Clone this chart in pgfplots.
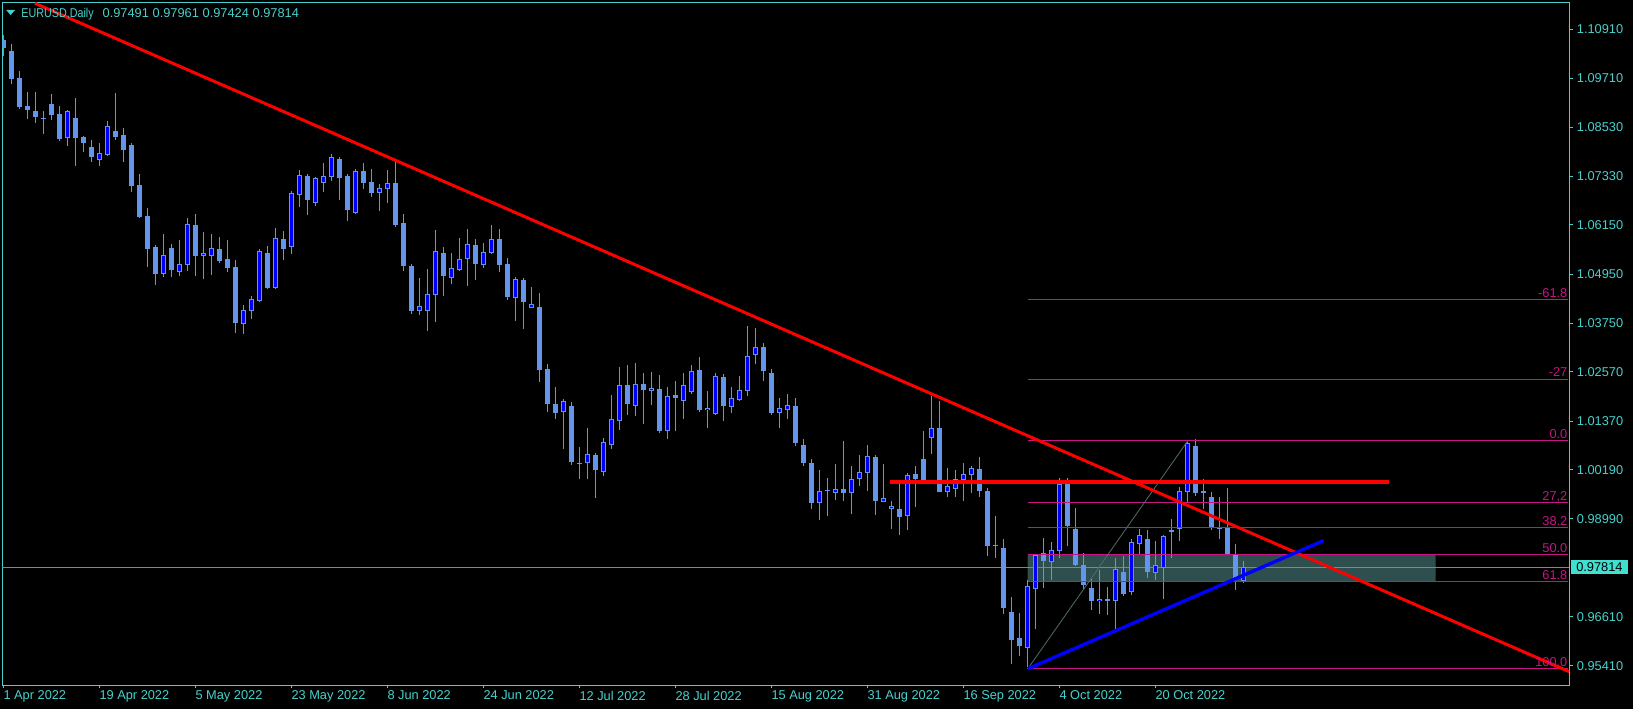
\documentclass[border=0pt]{standalone}
\usepackage{fontspec}
\setmainfont{Liberation Sans}
\usepackage{pgfplots}
\usepackage{pgfplotstable}
\pgfplotsset{compat=1.18}
\definecolor{cfb}{RGB}{100,149,237}
\definecolor{tc}{RGB}{72,209,204}
\definecolor{fib}{RGB}{199,21,133}
\definecolor{zone}{RGB}{47,79,79}
\definecolor{pline}{RGB}{119,136,153}
\definecolor{tag}{RGB}{64,224,208}
\definecolor{fibdiag}{RGB}{80,110,100}
\newcommand{\lf}{\fontsize{6.4pt}{7.2pt}\selectfont}
% bull candles: i open high low close
\pgfplotstableread{
i o h l c
8 1.0826 1.0895 1.0808 1.0891
12 1.0774 1.0814 1.0759 1.0790
13 1.0786 1.0867 1.0783 1.0856
20 1.0496 1.0593 1.0489 1.0542
22 1.0499 1.0578 1.0491 1.0520
23 1.0518 1.0632 1.0503 1.0617
25 1.0538 1.0598 1.0482 1.0546
26 1.0540 1.0593 1.0494 1.0559
30 1.0374 1.0420 1.0348 1.0408
31 1.0404 1.0442 1.0386 1.0434
32 1.0430 1.0556 1.0426 1.0551
34 1.0460 1.0607 1.0458 1.0582
36 1.0562 1.0697 1.0544 1.0692
37 1.0688 1.0749 1.0658 1.0736
39 1.0669 1.0731 1.0661 1.0728
40 1.0718 1.0766 1.0695 1.0733
41 1.0732 1.0787 1.0722 1.0779
44 1.0644 1.0751 1.0641 1.0745
47 1.0693 1.0714 1.0649 1.0704
48 1.0701 1.0749 1.0668 1.0716
52 1.0406 1.0486 1.0396 1.0417
53 1.0406 1.0508 1.0357 1.0446
54 1.0443 1.0602 1.0378 1.0551
56 1.0486 1.0546 1.0471 1.0509
57 1.0506 1.0583 1.0503 1.0533
58 1.0533 1.0605 1.0466 1.0568
60 1.0516 1.0571 1.0510 1.0548
61 1.0546 1.0615 1.0544 1.0580
64 1.0438 1.0488 1.0381 1.0483
66 1.0413 1.0464 1.0413 1.0422
70 1.0160 1.0191 1.0070 1.0186
73 1.0034 1.0120 0.9995 1.0057
75 1.0014 1.0096 1.0004 1.0086
76 1.0080 1.0201 1.0070 1.0142
77 1.0138 1.0269 1.0116 1.0225
79 1.0175 1.0279 1.0150 1.0228
81 1.0211 1.0257 1.0177 1.0218
83 1.0112 1.0219 1.0094 1.0198
85 1.0187 1.0254 1.0143 1.0225
86 1.0209 1.0274 1.0204 1.0259
88 1.0163 1.0211 1.0121 1.0169
89 1.0155 1.0254 1.0153 1.0247
91 1.0172 1.0219 1.0158 1.0193
92 1.0189 1.0247 1.0187 1.0213
93 1.0211 1.0369 1.0198 1.0296
94 1.0299 1.0364 1.0275 1.0318
97 1.0158 1.0193 1.0120 1.0168
98 1.0165 1.0203 1.0142 1.0176
102 0.9939 1.0018 0.9896 0.9967
104 0.9961 1.0033 0.9945 0.9972
106 0.9962 1.0028 0.9911 0.9996
107 0.9995 1.0055 0.9979 1.0013
108 1.0012 1.0079 0.9967 1.0052
110 0.9941 1.0033 0.9941 0.9950
111 0.9924 0.9943 0.9875 0.9931
113 0.9905 1.0011 0.9872 1.0006
116 1.0097 1.0198 1.0057 1.0120
118 0.9965 1.0023 0.9952 0.9979
119 0.9973 1.0018 0.9952 0.9996
120 0.9994 1.0035 0.9943 1.0008
121 1.0007 1.0028 0.9962 1.0023
128 0.9584 0.9750 0.9534 0.9736
129 0.9729 0.9814 0.9632 0.9811
131 0.9793 0.9843 0.9751 0.9823
132 0.9822 0.9999 0.9805 0.9984
137 0.9698 0.9775 0.9668 0.9703
139 0.9698 0.9804 0.9632 0.9777
141 0.9720 0.9850 0.9715 0.9842
142 0.9837 0.9875 0.9812 0.9860
144 0.9768 0.9845 0.9751 0.9787
145 0.9780 0.9860 0.9703 0.9858
147 0.9875 0.9977 0.9846 0.9967
148 0.9964 1.0086 0.9941 1.0084
155 0.97491 0.97961 0.97424 0.97814
}\bull
% bear candles: i open high low close
\pgfplotstableread{
i o h l c
0 1.1065 1.1077 1.1027 1.1046
1 1.1038 1.1055 1.0958 1.0971
2 1.0973 1.0990 1.0898 1.0903
3 1.0904 1.0938 1.0873 1.0895
4 1.0892 1.0938 1.0864 1.0878
5 1.0876 1.0892 1.0835 1.0873
6 1.0909 1.0934 1.0870 1.0883
7 1.0885 1.0904 1.0820 1.0825
9 1.0875 1.0924 1.0757 1.0827
10 1.0829 1.0831 1.0793 1.0813
11 1.0805 1.0821 1.0769 1.0779
14 1.0843 1.0936 1.0822 1.0830
15 1.0834 1.0851 1.0769 1.0796
16 1.0809 1.0814 1.0696 1.0710
17 1.0712 1.0739 1.0632 1.0635
18 1.0636 1.0656 1.0513 1.0557
19 1.0561 1.0566 1.0469 1.0496
21 1.0559 1.0568 1.0489 1.0506
24 1.0615 1.0641 1.0491 1.0538
27 1.0556 1.0585 1.0523 1.0528
28 1.0533 1.0578 1.0501 1.0511
29 1.0512 1.0529 1.0352 1.0377
33 1.0546 1.0563 1.0458 1.0460
35 1.0581 1.0600 1.0530 1.0557
38 1.0733 1.0739 1.0639 1.0675
42 1.0775 1.0780 1.0675 1.0730
43 1.0734 1.0739 1.0624 1.0651
45 1.0745 1.0766 1.0702 1.0718
46 1.0719 1.0751 1.0683 1.0693
49 1.0717 1.0768 1.0610 1.0615
50 1.0619 1.0641 1.0503 1.0515
51 1.0515 1.0520 1.0398 1.0405
55 1.0546 1.0561 1.0442 1.0490
59 1.0566 1.0581 1.0481 1.0520
62 1.0581 1.0605 1.0500 1.0517
63 1.0520 1.0534 1.0433 1.0440
65 1.0481 1.0486 1.0362 1.0426
67 1.0415 1.0449 1.0233 1.0262
68 1.0264 1.0276 1.0160 1.0180
69 1.0179 1.0219 1.0143 1.0158
71 1.0174 1.0184 1.0031 1.0038
72 1.0036 1.0074 0.9997 1.0033
74 1.0055 1.0060 0.9951 1.0019
78 1.0225 1.0274 1.0153 1.0180
80 1.0228 1.0254 1.0129 1.0214
82 1.0215 1.0249 1.0107 1.0114
84 1.0201 1.0235 1.0112 1.0194
87 1.0262 1.0293 1.0160 1.0163
90 1.0245 1.0252 1.0138 1.0175
95 1.0318 1.0327 1.0235 1.0258
96 1.0254 1.0264 1.0152 1.0158
99 1.0174 1.0193 1.0077 1.0084
100 1.0079 1.0094 1.0028 1.0035
101 1.0035 1.0045 0.9923 0.9938
103 0.9969 0.9999 0.9906 0.9966
105 0.9972 1.0089 0.9943 0.9962
109 1.0050 1.0055 0.9909 0.9943
112 0.9923 0.9991 0.9860 0.9904
114 1.0008 1.0028 0.9928 0.9996
115 1.0045 1.0113 0.9990 0.9990
117 1.0120 1.0186 0.9965 0.9965
122 1.0021 1.0050 0.9952 0.9967
123 0.9967 0.9974 0.9809 0.9833
124 0.9836 0.9906 0.9804 0.9832
125 0.9828 0.9850 0.9668 0.9683
126 0.9673 0.9709 0.9547 0.9605
127 0.9609 0.9670 0.9566 0.9590
130 0.9816 0.9853 0.9732 0.9797
133 0.9984 0.9999 0.9832 0.9882
134 0.9875 0.9926 0.9785 0.9788
135 0.9787 0.9816 0.9729 0.9737
136 0.9731 0.9753 0.9678 0.9700
138 0.9704 0.9733 0.9666 0.9700
140 0.9770 0.9809 0.9712 0.9717
143 0.9850 0.9872 0.9754 0.9771
146 0.9872 0.9899 0.9805 0.9868
149 1.0077 1.0094 0.9956 0.9963
150 0.9966 0.9996 0.9922 0.9962
151 0.9952 0.9965 0.9872 0.9880
152 0.9879 0.9952 0.9851 0.9874
153 0.9877 0.9974 0.9811 0.9811
154 0.9814 0.9838 0.9726 0.9750
}\bear
\begin{document}
\begin{tikzpicture}
\useasboundingbox (0,0) rectangle (816.5pt,354.5pt);
\fill[black] (0,0) rectangle (816.5pt,354.5pt);
\begin{axis}[
  at={(1.15pt,12pt)}, anchor=south west,
  width=783.5pt, height=341.35pt, scale only axis,
  xmin=-0.175, xmax=195.7, ymin=0.94947, ymax=1.11567,
  clip mode=individual,
  axis line style={tc, line width=0.5pt},
  xtick pos=bottom, ytick pos=right,
  yticklabel pos=right,
  tick align=outside, major tick length=1.6pt,
  tick style={tc, line width=0.5pt},
  xtick={0,12,24,36,48,60,72,84,96,108,120,132,144},
  xticklabels={1 Apr 2022,19 Apr 2022,5 May 2022,23 May 2022,8 Jun 2022,24 Jun 2022,12 Jul 2022,28 Jul 2022,15 Aug 2022,31 Aug 2022,16 Sep 2022,4 Oct 2022,20 Oct 2022},
  ytick={1.10910,1.09710,1.08530,1.07330,1.06150,1.04950,1.03750,1.02570,1.01370,1.00190,0.98990,0.96610,0.95410},
  yticklabels={1.10910,1.09710,1.08530,1.07330,1.06150,1.04950,1.03750,1.02570,1.01370,1.00190,0.98990,0.96610,0.95410},
  xticklabel style={anchor=north west, inner sep=0pt, font=\lf, text=tc, xshift=-0.3pt, yshift=-1.2pt},
  yticklabel style={anchor=west, inner sep=0pt, font=\lf, text=tc, xshift=2pt},
]
% fibo zone rectangle
\addplot[fill=zone, draw=none] coordinates {(128,0.97460) (179,0.97460) (179,0.98115) (128,0.98115) (128,0.97460)};
% current price line
\addplot[pline, line width=0.5pt] coordinates {(-0.175,0.97814) (195.7,0.97814)};
% wicks
\addplot[cfb, line width=0.5pt, quiver={u=0, v=\thisrow{h}-\thisrow{l}}] table[x=i, y=l] {\bear};
\addplot[cfb, line width=0.5pt, quiver={u=0, v=\thisrow{h}-\thisrow{l}}] table[x=i, y=l] {\bull};
% bear bodies
\addplot[cfb, line width=2.4pt, quiver={u=0, v=\thisrow{o}-\thisrow{c}}] table[x=i, y=c] {\bear};
% bull bodies (border + blue fill)
\addplot[cfb, line width=2.4pt, quiver={u=0, v=\thisrow{c}-\thisrow{o}}] table[x=i, y=o] {\bull};
\addplot[blue, line width=1.4pt, shorten <=0.5pt, shorten >=0.5pt, quiver={u=0, v=\thisrow{c}-\thisrow{o}}] table[x=i, y=o] {\bull};
% fibonacci levels
\addplot[fib, line width=0.5pt] coordinates {(128,1.0432) (195.5,1.0432)};
\addplot[fib, line width=0.5pt] coordinates {(128,1.02389) (195.5,1.02389)};
\addplot[fib, line width=0.5pt] coordinates {(128,1.0089) (195.5,1.0089)};
\addplot[fib, line width=0.5pt] coordinates {(128,0.99380) (195.5,0.99380)};
\addplot[fib, line width=0.5pt] coordinates {(128,0.98770) (195.5,0.98770)};
\addplot[fib, line width=0.5pt] coordinates {(128,0.98115) (195.5,0.98115)};
\addplot[fib, line width=0.5pt] coordinates {(128,0.97460) (195.5,0.97460)};
\addplot[fib, line width=0.5pt] coordinates {(128,0.9534) (195.5,0.9534)};
% fibo diagonal
\addplot[fibdiag, line width=0.4pt] coordinates {(128,0.9534) (148,1.0089)};
% trend lines
\addplot[red, line width=1.5pt] coordinates {(3.9125,1.11543) (195.7,0.95271)};
\addplot[red, line width=2pt] coordinates {(110.8,0.99897) (173.2,0.99897)};
\addplot[blue, line width=1.7pt] coordinates {(128,0.9534) (165.0,0.98465)};
% fibo labels
\foreach \lv/\tx in {1.0432/-61.8, 1.02389/-27, 1.0089/0.0, 0.99380/{27,2}, 0.98770/38.2, 0.98115/50.0, 0.97460/61.8, 0.9534/100.0}{
  \edef\temp{\noexpand\node[anchor=base east, inner sep=0pt, font=\noexpand\lf, text=fib] at (axis cs:195.5,\lv) [yshift=1.2pt] {\tx};}
  \temp
}
% price tag
\node[anchor=west, fill=tag, text=black, font=\lf, inner xsep=2.6pt, inner ysep=0pt, minimum height=7pt] at (axis cs:195.7,0.97814) [xshift=0.7pt] {0.97814};
\end{axis}
% header
\fill[tc] (3pt,349.6pt) -- (7.6pt,349.6pt) -- (5.3pt,347pt) -- cycle;
\node[anchor=base west, inner sep=0pt, font=\lf, text=tc] at (10.5pt,345.85pt) {\scalebox{0.84}[1]{EURUSD,Daily}};
\node[anchor=base west, inner sep=0pt, font=\lf, text=tc] at (51.15pt,345.85pt) {0.97491};
\node[anchor=base west, inner sep=0pt, font=\lf, text=tc] at (76.15pt,345.85pt) {0.97961};
\node[anchor=base west, inner sep=0pt, font=\lf, text=tc] at (101.15pt,345.85pt) {0.97424};
\node[anchor=base west, inner sep=0pt, font=\lf, text=tc] at (126.15pt,345.85pt) {0.97814};
\end{tikzpicture}
\end{document}
